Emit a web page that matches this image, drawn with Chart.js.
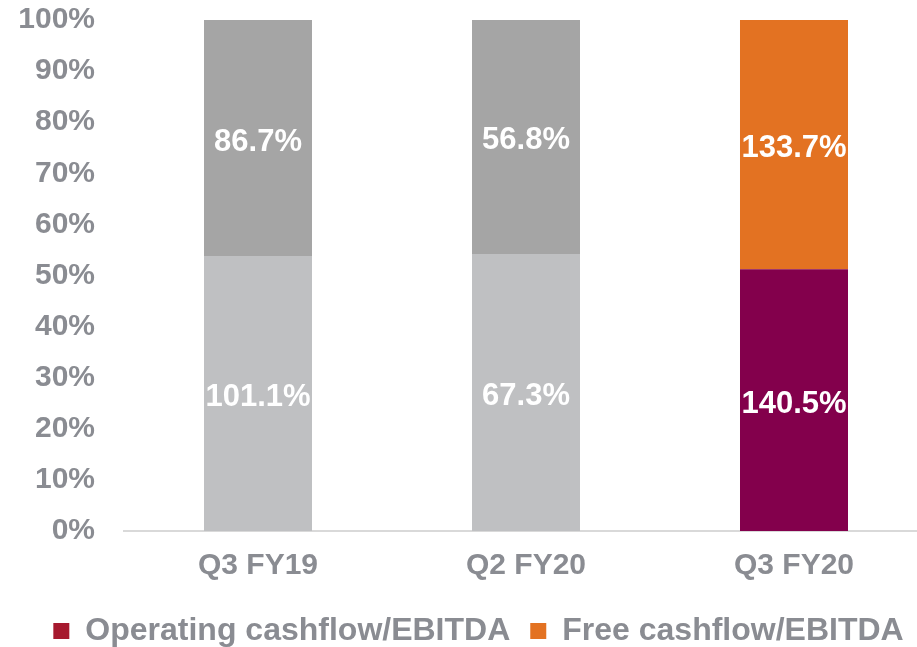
<!DOCTYPE html>
<html>
<head>
<meta charset="utf-8">
<script src="https://cdn.jsdelivr.net/npm/chart.js@4/dist/chart.umd.min.js"></script>
<style>
  html, body { margin: 0; padding: 0; background: #fff; overflow: hidden; }
  /* canvas hơi rộng/cao hơn cửa sổ: trục x trong hình gốc bị cắt ở mép phải */
  #wrap { width: 928px; height: 657px; position: relative; }
</style>
</head>
<body>
<div id="wrap"><canvas id="cashChart"></canvas></div>
<script>
// Dữ liệu
var quarters = ['Q3 FY19', 'Q2 FY20', 'Q3 FY20'];
var operatingCash = [101.1, 67.3, 140.5];
var freeCash = [86.7, 56.8, 133.7];
var yTicks = [0, 10, 20, 30, 40, 50, 60, 70, 80, 90, 100];

var opColors = ['#BFC0C2', '#BFC0C2', '#83004C'];
var freeColors = ['#A5A5A5', '#A5A5A5', '#E37222'];
var labelGrey = '#8A8C92';
var fontFamily = '"Liberation Sans", Arial, sans-serif';

// Chuẩn hoá thành 100% cho từng cột
var opShare = operatingCash.map(function (v, i) { return v / (v + freeCash[i]) * 100; });
var freeShare = freeCash.map(function (v, i) { return v / (operatingCash[i] + v) * 100; });

// Ghi giá trị gốc vào giữa mỗi đoạn cột
var segmentLabels = {
    id: 'segmentLabels',
    afterDatasetsDraw: function (chart) {
        var ctx = chart.ctx;
        ctx.save();
        ctx.font = 'bold 31px ' + fontFamily;
        ctx.fillStyle = '#ffffff';
        ctx.textAlign = 'center';
        ctx.textBaseline = 'middle';
        chart.data.datasets.forEach(function (ds, di) {
            chart.getDatasetMeta(di).data.forEach(function (bar, i) {
                var y = (bar.y + bar.base) / 2;
                ctx.fillText(ds.rawValues[i].toFixed(1) + '%', bar.x, y + 4);
            });
        });
        ctx.restore();
    }
};

// Dời chú thích sang phải một chút cho giống hình gốc
var legendShift = {
    id: 'legendShift',
    afterLayout: function (chart) {
        if (chart.legend) {
            chart.legend.left += 6;
            chart.legend.right += 6;
        }
    }
};

new Chart(document.getElementById('cashChart'), {
    type: 'bar',
    data: {
        labels: quarters,
        datasets: [{
                label: 'Operating cashflow/EBITDA',
                data: opShare,
                rawValues: operatingCash,
                backgroundColor: opColors,
                legendColor: '#A6192E'
            }, {
                label: 'Free cashflow/EBITDA',
                data: freeShare,
                rawValues: freeCash,
                backgroundColor: freeColors,
                legendColor: '#E37222'
            }]
    },
    options: {
        responsive: true,
        maintainAspectRatio: false,
        animation: false,
        datasets: {
            bar: {categoryPercentage: 1, barPercentage: 0.403}
        },
        layout: {padding: {left: 17, right: 0, top: 20, bottom: 0}},
        plugins: {
            tooltip: {enabled: false},
            legend: {
                position: 'bottom',
                labels: {
                    boxWidth: 16,
                    boxHeight: 16,
                    padding: 20,
                    color: labelGrey,
                    font: {family: fontFamily, size: 32, weight: 'bold'},
                    generateLabels: function (chart) {
                        return chart.data.datasets.map(function (ds, i) {
                            return {
                                text: ds.label,
                                fillStyle: ds.legendColor,
                                strokeStyle: ds.legendColor,
                                lineWidth: 0,
                                fontColor: labelGrey,
                                datasetIndex: i
                            };
                        });
                    }
                }
            }
        },
        scales: {
            x: {
                stacked: true,
                grid: {display: false, drawTicks: false},
                border: {display: true, color: '#D9D9D9', width: 2},
                ticks: {
                    color: labelGrey,
                    padding: 17,
                    font: {family: fontFamily, size: 30, weight: 'bold'}
                },
                afterFit: function (axis) {
                    axis.height = 64;
                    axis.paddingLeft = 0;
                    axis.paddingRight = 0;
                }
            },
            y: {
                stacked: true,
                min: 0,
                max: 100,
                afterBuildTicks: function (axis) {
                    axis.ticks = yTicks.map(function (v) { return {value: v}; });
                },
                grid: {display: false, drawTicks: false},
                border: {display: false},
                ticks: {
                    color: labelGrey,
                    padding: 29,
                    font: {family: fontFamily, size: 30, weight: 'bold'},
                    callback: function (v) { return v + '%'; }
                },
                afterFit: function (axis) {
                    axis.width = 107;
                    axis.paddingTop = 0;
                    axis.paddingBottom = 0;
                }
            }
        }
    },
    plugins: [segmentLabels, legendShift]
});
</script>
</body>
</html>
